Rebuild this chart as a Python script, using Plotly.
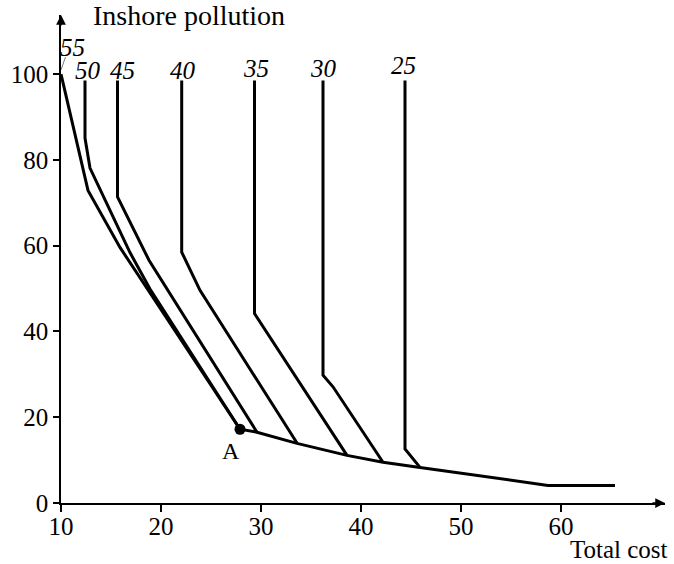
import plotly.graph_objects as go

# Curves labelled by their pollution level
c55_x = [10.0, 12.7, 15.9, 27.9, 29.6, 33.6, 38.6, 42.2, 45.9, 58.7, 65.4]
c55_y = [100.0, 72.9, 59.6, 17.2, 16.5, 13.9, 11.1, 9.5, 8.3, 4.1, 4.1]

c50_x = [12.4, 12.4, 12.9, 16.9, 18.9, 27.9]
c50_y = [98.5, 85.1, 78.1, 58.4, 49.9, 17.2]

c45_x = [15.65, 15.65, 18.8, 29.6]
c45_y = [98.5, 71.4, 56.6, 16.5]

c40_x = [22.07, 22.07, 23.9, 33.6]
c40_y = [98.5, 58.5, 49.6, 14.0]

c35_x = [29.35, 29.35, 38.6]
c35_y = [98.5, 44.2, 11.1]

c30_x = [36.2, 36.2, 37.2, 42.2]
c30_y = [98.5, 29.8, 27.1, 9.5]

c25_x = [44.4, 44.4, 45.9]
c25_y = [98.5, 12.6, 8.3]

curves = [
    ("55", c55_x, c55_y),
    ("50", c50_x, c50_y),
    ("45", c45_x, c45_y),
    ("40", c40_x, c40_y),
    ("35", c35_x, c35_y),
    ("30", c30_x, c30_y),
    ("25", c25_x, c25_y),
]

# curve labels (level, x, y)
label_text = ["55", "50", "45", "40", "35", "30", "25"]
label_x = [11.1, 12.7, 16.1, 22.2, 29.5, 36.2, 44.2]
label_y = [106.3, 100.9, 100.9, 100.9, 101.3, 101.3, 102.0]

point_A = (27.9, 17.2)

x_ticks = [10, 20, 30, 40, 50, 60]
y_ticks = [0, 20, 40, 60, 80, 100]

FONT = "Liberation Serif"

fig = go.Figure()
for name, xs, ys in curves:
    fig.add_trace(go.Scatter(x=xs, y=ys, mode="lines", name=name,
                             line=dict(color="black", width=3),
                             showlegend=False, hoverinfo="skip"))

# leader line for label 55
fig.add_trace(go.Scatter(x=[10.0, 10.45], y=[101.0, 104.0], mode="lines",
                         line=dict(color="#555555", width=0.8),
                         showlegend=False, hoverinfo="skip"))

fig.add_trace(go.Scatter(x=[point_A[0]], y=[point_A[1]], mode="markers",
                         marker=dict(color="black", size=11),
                         showlegend=False, hoverinfo="skip"))

for t, lx, ly in zip(label_text, label_x, label_y):
    fig.add_annotation(x=lx, y=ly, text="<i>%s</i>" % t, showarrow=False,
                       font=dict(family=FONT, size=25, color="black"),
                       xanchor="center", yanchor="middle")

fig.add_annotation(x=point_A[0], y=point_A[1], text="A", showarrow=False,
                   xshift=-9, yshift=-22,
                   font=dict(family=FONT, size=24, color="black"))

# axis titles
fig.add_annotation(xref="paper", yref="paper", x=0.05, y=1.0, yshift=0,
                   text="Inshore pollution", showarrow=False,
                   xanchor="left", yanchor="middle",
                   font=dict(family=FONT, size=28, color="black"))
fig.add_annotation(xref="paper", yref="paper", x=1.0, y=0, xshift=5, yshift=-46,
                   text="Total cost", showarrow=False,
                   xanchor="right", yanchor="middle",
                   font=dict(family=FONT, size=25, color="black"))

# axis arrows
fig.add_annotation(xref="paper", yref="paper", x=0, y=1.0, ax=0, ay=12,
                   showarrow=True, arrowhead=2, arrowsize=1.3, arrowwidth=1.5,
                   arrowcolor="black", text="", standoff=0)
fig.add_annotation(xref="paper", yref="paper", x=1.0, y=0, ax=-14, ay=0,
                   showarrow=True, arrowhead=2, arrowsize=1.3, arrowwidth=1.5,
                   arrowcolor="black", text="", standoff=0)

fig.update_xaxes(range=[10, 70.4], showgrid=False, zeroline=False,
                 showline=True, linecolor="black", linewidth=1.5,
                 ticks="outside", ticklen=7, tickwidth=1.5, tickcolor="black",
                 ticklabelstandoff=-7,
                 tickvals=x_ticks, ticktext=[str(v) for v in x_ticks],
                 tickfont=dict(family=FONT, size=25, color="black"))
fig.update_yaxes(range=[0, 113.8], showgrid=False, zeroline=False,
                 showline=True, linecolor="black", linewidth=1.5,
                 ticks="outside", ticklen=6, tickwidth=1.5, tickcolor="black",
                 tickvals=y_ticks, ticktext=[str(v) for v in y_ticks],
                 tickfont=dict(family=FONT, size=25, color="black"))

fig.update_layout(width=674, height=564,
                  margin=dict(l=61, r=9, t=15, b=61),
                  plot_bgcolor="white", paper_bgcolor="white")

fig.write_html("out.html", config={"displayModeBar": False},
               post_script="document.body.style.margin='0';")
